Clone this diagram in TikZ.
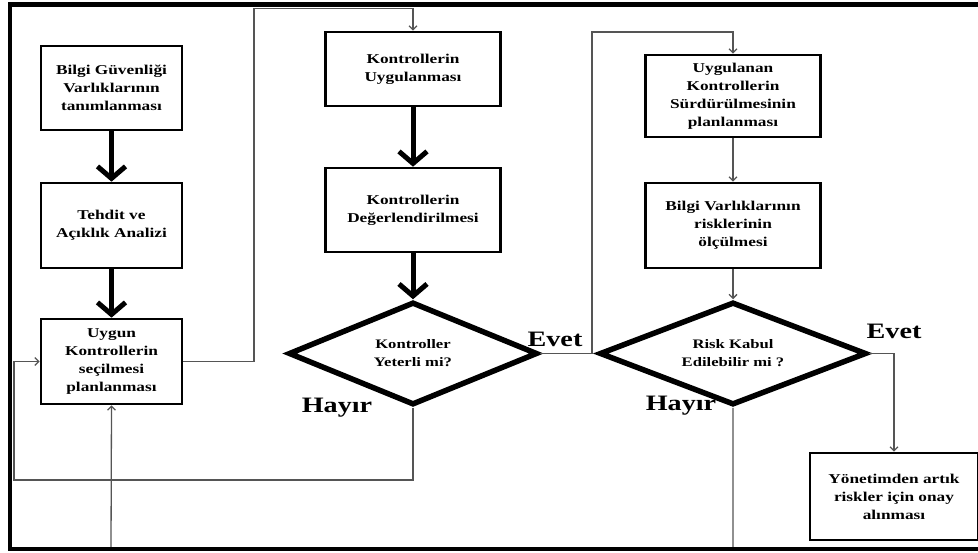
\documentclass[tikz,border=0pt]{standalone}
\usepackage{fontspec}
\setmainfont{Liberation Serif}[FakeStretch=1.28]
\usetikzlibrary{shapes.geometric,arrows.meta}
\definecolor{flowgray}{HTML}{555555}
\begin{document}
\begin{tikzpicture}[x=1pt,y=-1pt,
  procbox/.style={draw, line width=2.6pt, fill=white, align=center, inner sep=0pt,
    font=\fontsize{13.5}{18}\selectfont\bfseries},
  decision/.style={diamond, draw, line width=5.5pt, fill=white, aspect=2.4, inner sep=0pt,
    align=center, font=\fontsize{13}{18}\selectfont\bfseries},
  thickflow/.style={line width=5pt, -{Straight Barb[length=12pt,width=28pt]}},
  thinflow/.style={draw=flowgray, line width=1.3pt, -{Straight Barb[length=4pt,width=8pt]}},
  answer/.style={font=\fontsize{22}{24}\selectfont\bfseries, inner sep=0pt}]
\useasboundingbox (0,0) rectangle (978,552);
\clip (0,0) rectangle (978,552);

% nodes
\node[procbox, minimum width=141pt, minimum height=84pt] (b1) at (111.5,88)
  {Bilgi Güvenliği\\Varlıklarının\\tanımlanması};
\node[procbox, minimum width=141pt, minimum height=85pt] (b2) at (111.5,225.5)
  {Tehdit ve\\Açıklık Analizi};
\node[procbox, minimum width=141pt, minimum height=85pt] (b3) at (111.5,361.5)
  {Uygun\\Kontrollerin\\seçilmesi\\planlanması};
\node[procbox, minimum width=175pt, minimum height=74pt] (b4) at (413,69)
  {Kontrollerin\\Uygulanması};
\node[procbox, minimum width=175pt, minimum height=84pt] (b5) at (413,210)
  {Kontrollerin\\Değerlendirilmesi};
\node[decision, minimum width=249pt, minimum height=103pt] (d1) at (413,353.5)
  {Kontroller\\Yeterli mi?};
\node[procbox, minimum width=175pt, minimum height=82pt] (b7) at (733,96)
  {Uygulanan\\Kontrollerin\\Sürdürülmesinin\\planlanması};
\node[procbox, minimum width=175pt, minimum height=85pt] (b8) at (733,225.5)
  {Bilgi Varlıklarının\\risklerinin\\ölçülmesi};
\node[decision, minimum width=267pt, minimum height=103pt] (d2) at (733,353.5)
  {Risk Kabul\\Edilebilir mi ?};
\node[procbox, minimum width=168pt, minimum height=87pt] (b10) at (894,496.5)
  {Yönetimden artık\\riskler için onay\\alınması};

% labels
\node[answer] (e1) at (555,339) {Evet};
\node[answer] (h1) at (337,408) {Hayır};
\node[answer] (e2) at (894,331) {Evet};
\node[answer] (h2) at (681,406) {Hayır};

% helper coordinates
\coordinate (c1) at (254,8.5);
\coordinate (c2) at (592,32);
\coordinate (c3) at (14,480);
\coordinate (c4) at (111,549);

% thick arrows
\draw[thickflow] (b1) -- (b2);
\draw[thickflow] (b2) -- (b3);
\draw[thickflow] (b4) -- (b5);
\draw[thickflow] (b5) -- (d1);

% thin arrows
\draw[thinflow] (b3.east) -| (c1) -| (b4.north);
\draw[thinflow] (d1.east) -| (c2) -| (b7.north);
\draw[thinflow] (b7) -- (b8);
\draw[thinflow] (b8) -- (d2);
\draw[thinflow] (d2.east) -| (b10.north);
\draw[thinflow] (d1.south) |- (c3) |- (b3.west);
\draw[thinflow] (d2.south) |- (c4) -- (b3.south);

% outer frame (right side runs past the picture edge)
\draw[line width=4.5pt] (995,4.5) -- (10,4.5) -- (10,549) -- (995,549);
\end{tikzpicture}
\end{document}
